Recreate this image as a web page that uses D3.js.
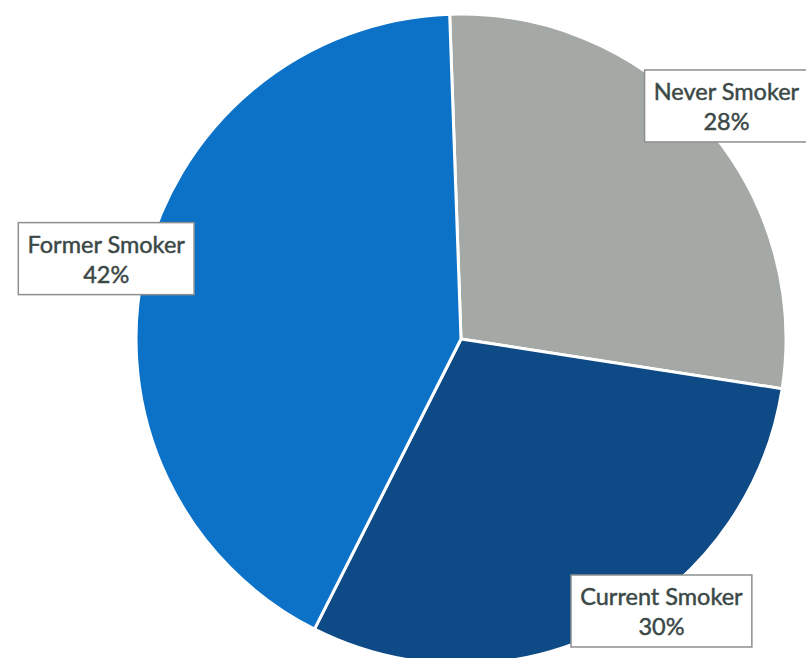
<!DOCTYPE html>
<html>
<head>
<meta charset="utf-8">
<script src="https://cdn.jsdelivr.net/npm/d3@7"></script>
<style>
  html, body { margin: 0; padding: 0; background: #fff; }
  svg { display: block; }
  .lbl text { font-family: Lato, "Open Sans", sans-serif; font-size: 23.5px; fill: #3a4846;
              stroke: #3a4846; stroke-width: 0.45px; }
</style>
</head>
<body>
<div id="chart"></div>
<script>
// data
var categories = ['Never Smoker', 'Current Smoker', 'Former Smoker'];
var shares = [28, 30, 42];
var colors = ['#a4a9a5', '#0e4a86', '#0b72c8'];

var width = 806, height = 658,
    cx = 461, cy = 339, radius = 325,
    tilt = -2 * Math.PI / 180;   // scan is slightly rotated

// small hand nudges so labels sit where Excel put them
var nudge = { 'Never Smoker': [3, 0], 'Current Smoker': [40, 0], 'Former Smoker': [-12, -5] };

var data = categories.map(function(c, i){ return {name: c, value: shares[i], color: colors[i]}; });

var svg = d3.select('#chart').append('svg')
    .attr('width', width).attr('height', height);

var pie = d3.pie().sort(null).value(function(d){ return d.value; })
    .startAngle(tilt).endAngle(tilt + 2 * Math.PI);

var arc = d3.arc().innerRadius(0).outerRadius(radius),
    labelArc = d3.arc().innerRadius(radius * 1.08).outerRadius(radius * 1.08);

var g = svg.append('g').attr('transform', 'translate(' + cx + ',' + cy + ')');

var arcs = pie(data);

g.selectAll('path.slice')
  .data(arcs)
  .enter().append('path').classed('slice', true)
  .attr('d', arc)
  .attr('fill', function(d){ return d.data.color; })
  .attr('stroke', '#fff')
  .attr('stroke-width', 3)
  .attr('stroke-linejoin', 'round');

var labels = g.selectAll('g.lbl')
  .data(arcs)
  .enter().append('g').classed('lbl', true);

labels.each(function(d){
    var _self = d3.select(this),
        p = labelArc.centroid(d),
        n = nudge[d.data.name] || [0, 0];

    var rect = _self.append('rect');
    var t = _self.append('text').attr('text-anchor', 'middle');
    t.append('tspan').attr('x', 0).attr('y', -6).text(d.data.name);
    t.append('tspan').attr('x', 0).attr('y', 24).text(d.data.value + '%');

    var bb = t.node().getBBox(),
        padX = 9,
        w = bb.width + padX * 2, h = 72;

    // keep the box inside the page, as Excel's best-fit does
    var x = p[0] + n[0], y = p[1] + n[1];
    x = Math.max(-cx + w / 2 + 12, Math.min(width - cx - w / 2 + 12, x));
    y = Math.max(-cy + h / 2 + 4, Math.min(height - cy - h / 2 - 11, y));

    rect.attr('x', -w / 2).attr('y', -h / 2).attr('width', w).attr('height', h)
        .attr('fill', '#fff').attr('stroke', '#8d8f8e').attr('stroke-width', 1.5);
    _self.attr('transform', 'translate(' + x + ',' + y + ')');
});
</script>
</body>
</html>
